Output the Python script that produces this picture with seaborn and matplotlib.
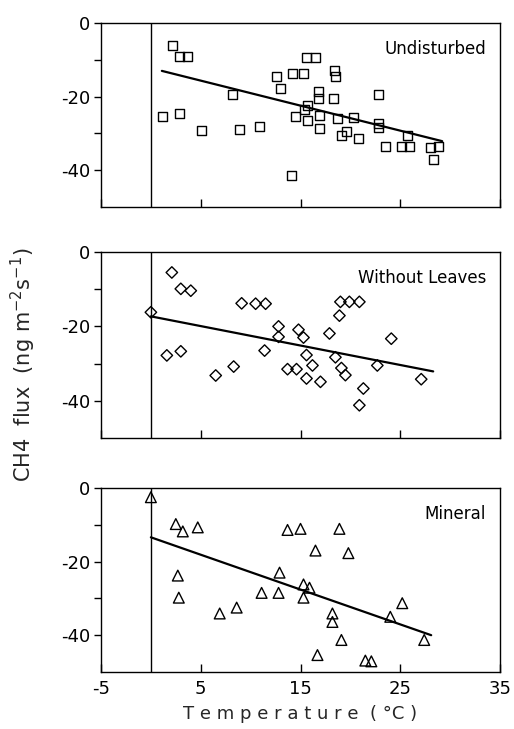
import matplotlib
matplotlib.use("Agg")
import matplotlib.pyplot as plt
import seaborn as sns
import numpy as np
import pandas as pd

# ---------------- data ----------------
und_t = [2.2, 2.9, 3.7, 1.2, 2.9, 5.1, 8.2, 8.9, 10.9, 12.6, 13.0, 14.2, 15.3, 15.6, 16.5,
         14.1, 14.5, 15.4, 15.7, 15.7, 16.8, 16.8, 16.9, 16.9, 18.4, 18.5, 18.3, 18.7, 19.1,
         19.6, 20.3, 20.8, 22.8, 22.8, 22.8, 23.5, 25.1, 25.9, 25.7, 28.0, 28.8, 28.3]
und_f = [-6.0, -9.1, -9.1, -25.5, -24.6, -29.2, -19.4, -28.8, -28.0, -14.6, -17.8, -13.6,
         -13.6, -9.4, -9.4, -41.3, -25.3, -23.6, -22.4, -26.4, -18.5, -20.5, -25.0, -28.6,
         -13.0, -14.4, -20.5, -26.0, -30.5, -29.6, -25.7, -31.4, -19.4, -27.3, -28.3, -33.5,
         -33.5, -33.5, -30.5, -33.7, -33.5, -37.1]
und_fit_t = [1.1, 29.2]
und_fit_f = [-13.0, -32.1]

wl_t = [0.0, 2.1, 3.0, 4.0, 1.6, 3.0, 6.5, 8.3, 9.1, 10.5, 11.5, 11.4, 12.8, 12.8, 13.7,
        14.6, 14.8, 15.3, 15.6, 15.6, 16.2, 17.0, 17.9, 18.5, 18.9, 19.0, 19.9, 20.9, 19.1,
        19.5, 21.3, 20.9, 22.7, 24.1, 27.1]
wl_f = [-16.2, -5.5, -9.9, -10.4, -27.8, -26.7, -33.2, -30.8, -13.8, -13.9, -13.9, -26.5,
        -20.0, -22.8, -31.5, -31.5, -20.9, -23.0, -27.7, -34.0, -30.5, -34.9, -21.9, -28.3,
        -17.1, -13.4, -13.4, -13.4, -31.2, -33.1, -36.7, -41.2, -30.5, -23.3, -34.2]
wl_fit_t = [0.0, 28.3]
wl_fit_f = [-17.3, -32.1]

min_t = [0.0, 2.5, 3.2, 4.7, 2.7, 2.8, 6.9, 8.6, 11.1, 12.8, 12.9, 13.7, 15.0, 15.3, 15.9,
         15.3, 16.5, 16.7, 18.2, 18.2, 18.9, 19.1, 19.8, 21.5, 22.1, 24.0, 25.2, 27.4]
min_f = [-2.5, -9.8, -11.8, -10.7, -23.8, -29.8, -34.1, -32.5, -28.5, -28.5, -23.0, -11.4,
         -11.1, -26.2, -27.1, -29.8, -17.0, -45.4, -34.1, -36.4, -11.1, -41.3, -17.7, -46.9,
         -47.1, -35.0, -31.3, -41.3]
min_fit_t = [0.0, 28.1]
min_fit_f = [-13.4, -40.0]

panel_names = ["Undisturbed", "Without Leaves", "Mineral"]
x_ticks = [-5, 5, 15, 25, 35]
x_labels = ["-5", "5", "15", "25", "35"]
y_ticks = [0, -10, -20, -30, -40]
y_labels = ["0", "", "-20", "", "-40"]

# ---------------- plotting ----------------
sns.set_theme(style="white")
plt.rcParams["font.family"] = ["DejaVu Sans"]
plt.rcParams["axes.unicode_minus"] = False

fig = plt.figure(figsize=(5.14, 7.29), dpi=100)
left, right = 0.1965, 0.9728
boxes = [(0.716, 0.9684), (0.3992, 0.6543), (0.0782, 0.3306)]

sets = [
    (und_t, und_f, und_fit_t, und_fit_f, "s", 42),
    (wl_t, wl_f, wl_fit_t, wl_fit_f, "D", 34),
    (min_t, min_f, min_fit_t, min_fit_f, "^", 60),
]

for i, ((bot, top), (tt, ff, ft, fff, mk, sz), name) in enumerate(zip(boxes, sets, panel_names)):
    ax = fig.add_axes([left, bot, right - left, top - bot])
    df = pd.DataFrame({"t": tt, "f": ff})
    ax.axvline(0, color="black", lw=1.0, zorder=1)
    sns.scatterplot(data=df, x="t", y="f", marker=mk, s=sz, facecolor="none",
                    edgecolor="black", linewidth=1.0, ax=ax, zorder=3, clip_on=False)
    fit = pd.DataFrame({"t": ft, "f": fff})
    sns.lineplot(data=fit, x="t", y="f", color="black", lw=1.6, ax=ax, zorder=2)
    ax.set_xlim(-5, 35)
    ax.set_ylim(-50, 0)
    ax.set_xticks(x_ticks)
    ax.set_yticks(y_ticks)
    ax.set_yticklabels(y_labels, fontsize=13)
    ax.tick_params(axis="x", direction="in", length=6, width=1.0, bottom=True, top=False,
                   colors="black", pad=6)
    ax.tick_params(axis="y", direction="out", length=5, width=1.0, left=True, pad=3,
                   colors="black")
    if i < 2:
        ax.set_xticklabels([])
    else:
        ax.set_xticklabels(x_labels, fontsize=13)
    ax.set_xlabel("")
    ax.set_ylabel("")
    for s in ax.spines.values():
        s.set_color("black")
        s.set_linewidth(1.0)
    ax.text(0.965, 0.86, name, transform=ax.transAxes, ha="right", va="center",
            fontsize=12, color="black")

fig.text(0.5 * (left + right), 0.02, "T e m p e r a t u r e  ( °C )", ha="center",
         va="center", fontsize=13)
fig.text(0.045, 0.5, r"CH4  flux  (ng m$^{-2}$s$^{-1}$)", rotation=90, ha="center",
         va="center", fontsize=15)

fig.savefig("out.png", dpi=100)
